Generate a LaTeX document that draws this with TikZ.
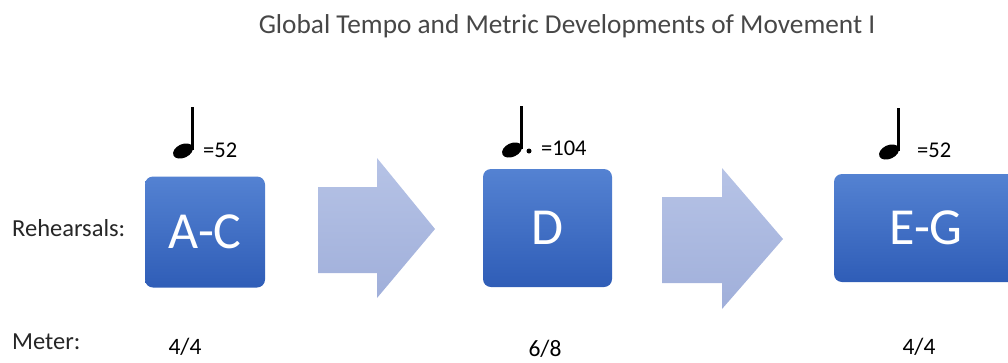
\documentclass[tikz,border=0pt]{standalone}
\usepackage{fontspec}
\setmainfont{Carlito}
\definecolor{boxtop}{HTML}{5482D2}
\definecolor{boxbot}{HTML}{2F5DB7}
\definecolor{arrtop}{HTML}{B6C3E6}
\definecolor{arrbot}{HTML}{A0AFDA}
\definecolor{titlegray}{HTML}{474747}
\tikzset{
  stage/.style={rounded corners=8pt, top color=boxtop, bottom color=boxbot,
    text=white, font=\fontsize{52}{52}\selectfont, inner sep=0pt},
  blockarrow/.style={top color=arrtop, bottom color=arrbot, draw=none},
  label/.style={anchor=west, text=black!85, font=\fontsize{24.5}{24.5}\selectfont, inner sep=0pt},
  metro/.style={anchor=west, text=black, font=\fontsize{22.5}{22.5}\selectfont, inner sep=0pt},
  meter/.style={text=black, font=\fontsize{23.5}{23.5}\selectfont, inner sep=0pt},
  qnote/.pic={
    \fill[black, rotate=25] (0,0) ellipse (10.5 and 6.8);
    \draw[black, line width=2.3pt] (9.5,-1) -- (9.5,-44);
  }
}
\begin{document}
\begin{tikzpicture}[x=1pt, y=-1pt]
  \useasboundingbox (0,0) rectangle (1008,362);
  \clip (0,0) rectangle (1008,362);

  % title
  \node[text=titlegray, font=\fontsize{27.3}{27.3}\selectfont, inner sep=0pt] (title) at (567,26)
    {Global Tempo and Metric Developments of Movement I};

  % row labels
  \node[label] (reh) at (12,228) {Rehearsals:};
  \node[label] (met) at (12,342) {Meter:};

  % rehearsal blocks
  \node[stage, minimum width=120pt, minimum height=111pt] (ac) at (205,232) {A-C};
  \node[stage, minimum width=129pt, minimum height=118pt] (d) at (547.5,228) {D};
  \node[stage, minimum width=184pt, minimum height=108pt] (eg) at (926,228) {E-G};

  % block arrows between the stages
  \shade[blockarrow] (318,187) -- (377,187) -- (377,158) -- (435,229)
    -- (377,298) -- (377,273) -- (318,273) -- cycle;
  \shade[blockarrow] (662,197) -- (722,197) -- (722,168) -- (783,239)
    -- (722,309) -- (722,283) -- (662,283) -- cycle;

  % tempo markings
  \pic at (183,151) {qnote};
  \node[metro] (t1) at (203,150) {=52};
  \pic at (512,150) {qnote};
  \fill[black] (529,151) circle (2.5);
  \node[metro] (t2) at (541,148) {=104};
  \pic at (889,152) {qnote};
  \node[metro] (t3) at (917,150) {=52};

  % meters
  \node[meter] (m1) at (185,347) {4/4};
  \node[meter] (m2) at (545,349) {6/8};
  \node[meter] (m3) at (919,347) {4/4};
\end{tikzpicture}
\end{document}
